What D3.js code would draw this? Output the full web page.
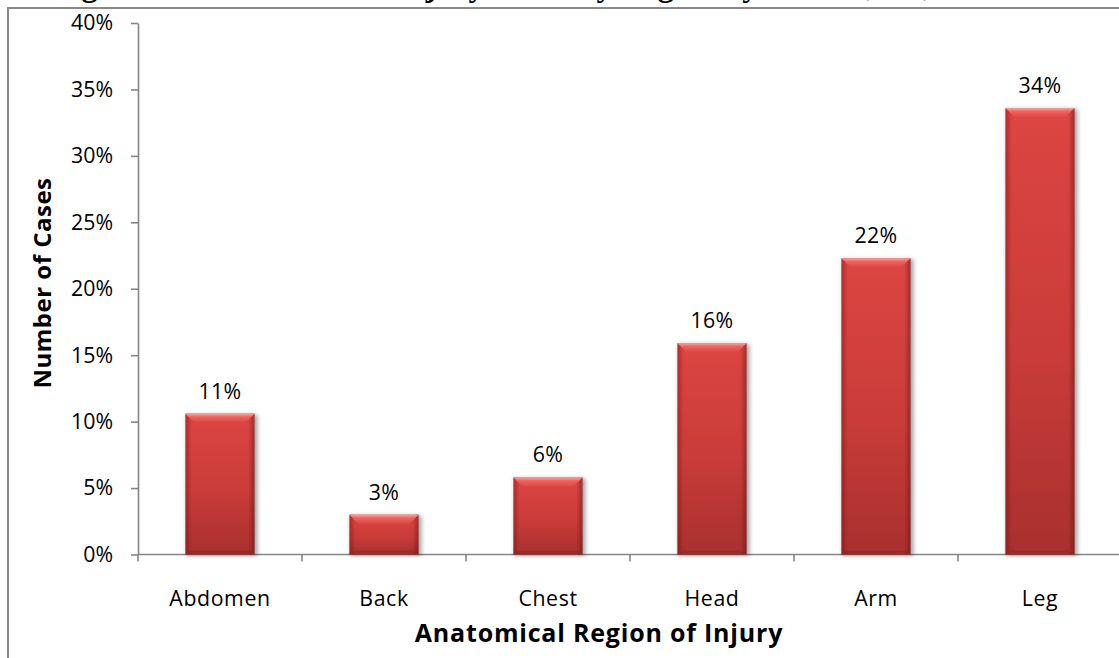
<!DOCTYPE html>
<html>
<head>
<meta charset="utf-8">
<script src="https://cdn.jsdelivr.net/npm/d3@7"></script>
<style>
  html, body { margin: 0; padding: 0; background: #fff; }
  svg { display: block; }
</style>
</head>
<body>
<div id="chart"></div>
<script>
// Share of cases by anatomical region of injury
const regions = ["Abdomen", "Back", "Chest", "Head", "Arm", "Leg"];
const shares = [0.106, 0.030, 0.058, 0.159, 0.223, 0.336];
const yTicks = [0, 0.05, 0.10, 0.15, 0.20, 0.25, 0.30, 0.35, 0.40];

const titleText = "Figure 5: Distribution of Injury Cases by Region by Gender, US, 2010";
const xTitle = "Anatomical Region of Injury";
const yTitle = "Number of Cases";

const W = 1119, H = 658;
const plot = { left: 138, right: 1122, top: 23, bottom: 554.5 };
const labelFont = "'Open Sans', 'Noto Sans', sans-serif";
const labelSize = 21.3;

const svg = d3.select("#chart").append("svg")
  .attr("width", W).attr("height", H);

const defs = svg.append("defs");

// vertical body shading of each bar
const body = defs.append("linearGradient").attr("id", "barBody")
  .attr("x1", 0).attr("y1", 0).attr("x2", 0).attr("y2", 1);
body.append("stop").attr("offset", "0%").attr("stop-color", "#dc4542");
body.append("stop").attr("offset", "55%").attr("stop-color", "#c93c39");
body.append("stop").attr("offset", "100%").attr("stop-color", "#a8302e");

// darker side edges
const sides = defs.append("linearGradient").attr("id", "barSides")
  .attr("x1", 0).attr("y1", 0).attr("x2", 1).attr("y2", 0);
[["0%", 0.38], ["9%", 0.0], ["91%", 0.0], ["100%", 0.42]].forEach(([o, a]) =>
  sides.append("stop").attr("offset", o).attr("stop-color", "#5a0a0a").attr("stop-opacity", a));

// light bevel on top
const bevel = defs.append("linearGradient").attr("id", "barBevel")
  .attr("x1", 0).attr("y1", 0).attr("x2", 0).attr("y2", 1);
bevel.append("stop").attr("offset", "0%").attr("stop-color", "#f7a7a3");
bevel.append("stop").attr("offset", "35%").attr("stop-color", "#ee6561");
bevel.append("stop").attr("offset", "100%").attr("stop-color", "#dc4744");

const blur = defs.append("filter").attr("id", "shadow")
  .attr("x", "-30%").attr("y", "-30%").attr("width", "160%").attr("height", "160%");
blur.append("feGaussianBlur").attr("stdDeviation", 2.2);

const x = d3.scaleBand()
  .domain(regions)
  .range([plot.left, plot.right])
  .paddingInner(0.579)
  .paddingOuter(0.2895);

const y = d3.scaleLinear()
  .domain([0, 0.40])
  .range([plot.bottom, plot.top]);

// title above the frame (only its lowest strokes fall inside the page)
svg.append("text")
  .attr("x", 53).attr("y", -4)
  .attr("font-family", "'Liberation Serif', 'Times New Roman', serif")
  .attr("font-weight", "bold")
  .attr("font-size", 32)
  .attr("fill", "#000")
  .text(titleText);

// outer chart frame
svg.append("path")
  .attr("d", `M8,${H + 2} L8,8 L${W + 2},8`)
  .attr("fill", "none")
  .attr("stroke", "#898989")
  .attr("stroke-width", 2);

// y axis
const yAxis = d3.axisLeft(y)
  .tickValues(yTicks)
  .tickFormat(d3.format(".0%"))
  .tickSize(7)
  .tickSizeOuter(0)
  .tickPadding(18);

const gy = svg.append("g")
  .attr("transform", `translate(${plot.left},0)`)
  .call(yAxis);
gy.select(".domain").attr("stroke", "#868686").attr("stroke-width", 1.6);
gy.selectAll(".tick line").attr("stroke", "#868686").attr("stroke-width", 1.6);
gy.selectAll(".tick text")
  .attr("font-family", labelFont)
  .attr("font-size", labelSize)
  .attr("fill", "#000");

// x axis: baseline with ticks between categories
const gx = svg.append("g");
gx.append("line")
  .attr("x1", plot.left).attr("x2", plot.right)
  .attr("y1", y(0)).attr("y2", y(0))
  .attr("stroke", "#868686").attr("stroke-width", 1.6);
const boundaries = d3.range(regions.length + 1).map(i => x.range()[0] + i * x.step());
gx.selectAll("line.tick")
  .data(boundaries)
  .join("line")
  .attr("class", "tick")
  .attr("x1", d => d).attr("x2", d => d)
  .attr("y1", y(0)).attr("y2", y(0) + 7)
  .attr("stroke", "#868686").attr("stroke-width", 1.6);
gx.selectAll("text.cat")
  .data(regions)
  .join("text")
  .attr("class", "cat")
  .attr("x", d => x(d) + x.bandwidth() / 2)
  .attr("y", 606)
  .attr("text-anchor", "middle")
  .attr("font-family", labelFont)
  .attr("font-size", labelSize)
  .attr("letter-spacing", 0.6)
  .attr("fill", "#000")
  .text(d => d);

// bars
const data = regions.map((r, i) => ({ region: r, value: shares[i] }));
const bars = svg.append("g").selectAll("g.bar")
  .data(data)
  .join("g")
  .attr("class", "bar");

bars.append("rect")
  .attr("x", d => x(d.region) + 1)
  .attr("y", d => y(d.value) + 1)
  .attr("width", x.bandwidth() + 2)
  .attr("height", d => y(0) - y(d.value))
  .attr("fill", "#000")
  .attr("opacity", 0.35)
  .attr("filter", "url(#shadow)");

bars.append("rect")
  .attr("x", d => x(d.region))
  .attr("y", d => y(d.value))
  .attr("width", x.bandwidth())
  .attr("height", d => y(0) - y(d.value))
  .attr("fill", "url(#barBody)");

bars.append("rect")
  .attr("x", d => x(d.region))
  .attr("y", d => y(d.value))
  .attr("width", x.bandwidth())
  .attr("height", d => y(0) - y(d.value))
  .attr("fill", "url(#barSides)");

bars.append("path")
  .attr("d", d => {
    const x0 = x(d.region), x1 = x0 + x.bandwidth(), t = y(d.value), b = 9;
    return `M${x0},${t} L${x1},${t} L${x1 - b},${t + b} L${x0 + b},${t + b} Z`;
  })
  .attr("fill", "url(#barBevel)");

bars.append("path")
  .attr("d", d => {
    const x0 = x(d.region), x1 = x0 + x.bandwidth(), bt = y(0), b = 4;
    return `M${x0},${bt} L${x1},${bt} L${x1 - b},${bt - b} L${x0 + b},${bt - b} Z`;
  })
  .attr("fill", "#8f2624")
  .attr("opacity", 0.55);

// value labels
bars.append("text")
  .attr("x", d => x(d.region) + x.bandwidth() / 2)
  .attr("y", d => y(d.value) - 15)
  .attr("text-anchor", "middle")
  .attr("font-family", labelFont)
  .attr("font-size", labelSize)
  .attr("letter-spacing", 0.4)
  .attr("fill", "#000")
  .text(d => d3.format(".0%")(d.value));

// axis titles
svg.append("text")
  .attr("x", 599)
  .attr("y", 642)
  .attr("text-anchor", "middle")
  .attr("font-family", labelFont)
  .attr("font-weight", "bold")
  .attr("font-size", 25)
  .attr("letter-spacing", 0.8)
  .attr("fill", "#000")
  .text(xTitle);

svg.append("text")
  .attr("transform", "translate(51,283) rotate(-90)")
  .attr("text-anchor", "middle")
  .attr("font-family", labelFont)
  .attr("font-weight", "bold")
  .attr("font-size", 24)
  .attr("letter-spacing", 0.5)
  .attr("fill", "#000")
  .text(yTitle);
</script>
</body>
</html>
